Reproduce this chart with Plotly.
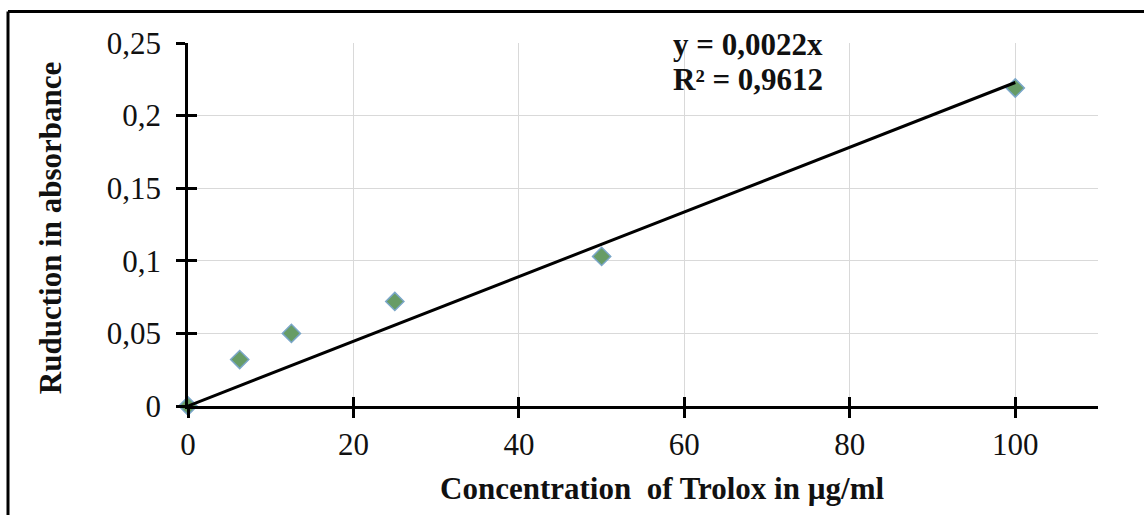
import numpy as np
import plotly.graph_objects as go

# ---- data ----
concentration = [0, 6.25, 12.5, 25, 50, 100]
absorbance_reduction = [0.0, 0.032, 0.050, 0.072, 0.103, 0.219]

x_tickvals = [0, 20, 40, 60, 80, 100]
x_ticktext = ["0", "20", "40", "60", "80", "100"]
y_tickvals = [0, 0.05, 0.10, 0.15, 0.20, 0.25]
y_ticktext = ["0", "0,05", "0,1", "0,15", "0,2", "0,25"]

equation_lines = ["y = 0,0022x", "R² = 0,9612"]
x_title = "Concentration  of Trolox in µg/ml"
y_title = "Ruduction in absorbance"

# linear trend through the origin (least squares)
xa = np.array(concentration, dtype=float)
ya = np.array(absorbance_reduction, dtype=float)
slope = float((xa * ya).sum() / (xa * xa).sum())
trend_x = [min(concentration), max(concentration)]
trend_y = [slope * v for v in trend_x]

FONT = "Liberation Serif, Times New Roman, serif"

fig = go.Figure()
fig.add_trace(go.Scatter(
    x=concentration, y=absorbance_reduction, mode="markers",
    marker=dict(symbol="diamond", size=14, color="#679c66",
                line=dict(color="#7aa6c8", width=1.5)),
    showlegend=False, hoverinfo="x+y", cliponaxis=False))
fig.add_trace(go.Scatter(
    x=trend_x, y=trend_y, mode="lines",
    line=dict(color="black", width=3), showlegend=False, hoverinfo="skip"))
# invisible trace so the overlay axes (inside tick marks) render
fig.add_trace(go.Scatter(
    x=concentration, y=absorbance_reduction, xaxis="x2", yaxis="y2",
    mode="markers", marker=dict(opacity=0), showlegend=False, hoverinfo="skip"))

axis_common = dict(showline=True, linecolor="black", linewidth=2.5,
                   tickcolor="black", tickwidth=2.5, ticklen=9,
                   zeroline=False,
                   tickfont=dict(family=FONT, size=31, color="#111111"))

fig.update_layout(
    width=1144, height=515,
    margin=dict(l=188, r=46, t=43, b=109),
    paper_bgcolor="white", plot_bgcolor="white",
    xaxis=dict(range=[0, 110], tickvals=x_tickvals, ticktext=x_ticktext,
               ticks="outside", showgrid=True, gridcolor="#d9d9d9", gridwidth=1,
               ticklabelstandoff=0, **axis_common),
    yaxis=dict(range=[0, 0.25], tickvals=y_tickvals, ticktext=y_ticktext,
               ticks="outside", showgrid=True, gridcolor="#d9d9d9", gridwidth=1,
               ticklabelstandoff=9, **axis_common),
    xaxis2=dict(range=[0, 110], overlaying="x", anchor="y2", tickvals=x_tickvals,
                ticks="inside", showticklabels=False, showgrid=False,
                showline=False, zeroline=False, tickcolor="black", tickwidth=2.5,
                ticklen=9, side="bottom"),
    yaxis2=dict(range=[0, 0.25], overlaying="y", anchor="x2", tickvals=y_tickvals,
                ticks="inside", showticklabels=False, showgrid=False,
                showline=False, zeroline=False, tickcolor="black", tickwidth=2.5,
                ticklen=9, side="left"),
    shapes=[
        dict(type="line", xref="paper", yref="paper", x0=-0.1978, x1=1.06,
             y0=1.087, y1=1.087, line=dict(color="black", width=3)),
        dict(type="line", xref="paper", yref="paper", x0=-0.1978, x1=-0.1978,
             y0=1.087, y1=-0.32, line=dict(color="black", width=3)),
    ],
    annotations=[
        dict(text=f"<b>{equation_lines[0]}</b>", xref="paper", yref="paper",
             x=0.531, y=0.996, xanchor="left", yanchor="middle", showarrow=False,
             font=dict(family=FONT, size=31, color="#111111")),
        dict(text=f"<b>{equation_lines[1]}</b>", xref="paper", yref="paper",
             x=0.531, y=0.899, xanchor="left", yanchor="middle", showarrow=False,
             font=dict(family=FONT, size=31, color="#111111")),
        dict(text=f"<b>{x_title}</b>", xref="paper", yref="paper",
             x=0.521, y=-0.228, xanchor="center", yanchor="middle", showarrow=False,
             font=dict(family=FONT, size=31, color="#111111")),
        dict(text=f"<b>{y_title}</b>", xref="paper", yref="paper",
             x=-0.1516, y=0.49, xanchor="center", yanchor="middle", showarrow=False,
             textangle=-90, font=dict(family=FONT, size=31, color="#111111")),
    ],
)

fig.write_html("out.html")
